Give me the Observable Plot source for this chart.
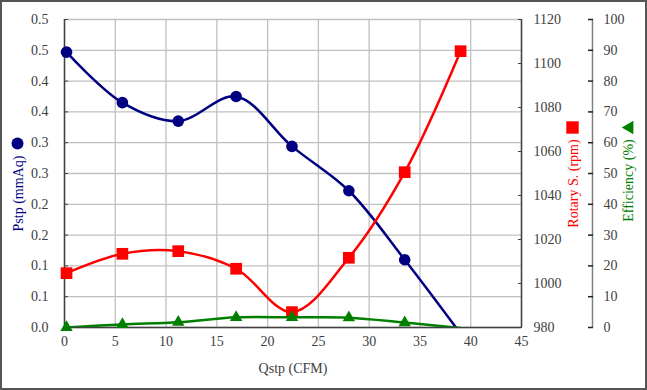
<!DOCTYPE html>
<html><head><meta charset="utf-8">
<script src="https://cdn.jsdelivr.net/npm/d3@7"></script>
<script src="https://cdn.jsdelivr.net/npm/@observablehq/plot@0.6"></script>
<style>
html,body{margin:0;padding:0;background:#fff}
#chart svg{display:block;outline:2px solid #555;outline-offset:-2px;font-family:"Liberation Serif","DejaVu Serif",serif}
#chart svg text{font-family:"Liberation Serif","DejaVu Serif",serif}
</style></head><body><div id="chart"></div>
<script>
const qstp = [0.2, 5.7, 11.2, 16.9, 22.4, 28.0, 33.5, 39.0];
const pstp = [0.447, 0.365, 0.335, 0.375, 0.294, 0.222, 0.110, -0.01];
const rotary = [1004.7, 1013.5, 1014.7, 1006.7, 987.0, 1011.7, 1050.6, 1105.6];
const efficiency = [0.0, 1.0, 1.7, 3.3, 3.3, 3.2, 1.6, -0.2];

const xTicks = [0, 5, 10, 15, 20, 25, 30, 35, 40, 45];
const pstpTicks = [0, 0.05, 0.1, 0.15, 0.2, 0.25, 0.3, 0.35, 0.4, 0.45, 0.5];
const pstpTickLabels = ["0.0", "0.1", "0.1", "0.2", "0.2", "0.3", "0.3", "0.4", "0.4", "0.5", "0.5"];
const rotaryTicks = [980, 1000, 1020, 1040, 1060, 1080, 1100, 1120];
const effTicks = [0, 10, 20, 30, 40, 50, 60, 70, 80, 90, 100];

const xTitle = "Qstp (CFM)";
const pTitle = "Pstp (mmAq)";
const rTitle = "Rotary S. (rpm)";
const eTitle = "Efficiency (%)";

const BLUE = "#000080", RED = "#ff0000", GREEN = "#008000";
const rToY = d3.scaleLinear().domain([980, 1120]).range([0, 0.5]);
const eToY = d3.scaleLinear().domain([0, 100]).range([0, 0.5]);

const rows = qstp.map((q, i) => ({q, p: pstp[i], r: rToY(rotary[i]), e: eToY(efficiency[i]), pv: pstp[i], ev: efficiency[i]}));

const FONT = "Liberation Serif";
const T = {fontFamily: FONT, fontSize: 14};
const chart = Plot.plot({
  width: 647, height: 390,
  marginLeft: 64, marginRight: 126, marginTop: 19, marginBottom: 63,
  style: {fontSize: "14px", color: "#404040", background: "#fff"},
  x: {domain: [0, 45]},
  y: {domain: [0, 0.5]},
  marks: [
    Plot.gridX(xTicks, {stroke: "#c0c0c0", strokeOpacity: 1, strokeWidth: 1.3}),
    Plot.gridY(pstpTicks, {stroke: "#c0c0c0", strokeOpacity: 1, strokeWidth: 1.3}),
    // left axis
    Plot.ruleX([0], {stroke: "#404040", strokeWidth: 1.5}),
    Plot.ruleY([0], {stroke: "#404040", strokeWidth: 1.5}),
    Plot.axisY(pstpTicks, {anchor: "left", label: null, tickSize: 4, dx: 4, text: null, stroke: "#404040"}),
    Plot.axisY(pstpTicks, {anchor: "left", label: null, tickSize: 0, tickPadding: 16, tickFormat: (d, i) => pstpTickLabels[i], fill: "#404040", ...T}),
    // x axis
    Plot.axisX(xTicks, {anchor: "bottom", label: null, tickSize: 0, tickPadding: 9, tickFormat: d => String(d), fill: "#404040", ...T}),
    // rotary axis
    Plot.ruleX([45], {stroke: "#404040", strokeWidth: 1.5}),
    Plot.axisY(rotaryTicks.map(rToY), {anchor: "right", label: null, tickSize: 4, dx: -4, text: null, stroke: "#404040"}),
    Plot.axisY(rotaryTicks.map(rToY), {anchor: "right", label: null, tickSize: 0, tickPadding: 12, tickFormat: (d, i) => String(rotaryTicks[i]), fill: "#404040", ...T}),
    // efficiency axis
    Plot.ruleX([45], {dx: 71, stroke: "#808080", strokeWidth: 1.5}),
    Plot.axisY(effTicks.map(eToY), {anchor: "right", label: null, tickSize: 5, dx: 66, text: null, stroke: "#202020", strokeWidth: 1.5}),
    Plot.axisY(effTicks.map(eToY), {anchor: "right", label: null, tickSize: 0, tickPadding: 11, dx: 71, tickFormat: (d, i) => String(effTicks[i]), fill: "#404040", ...T}),
    // series
    Plot.line(rows, {x: "q", y: "p", curve: "catmull-rom", stroke: BLUE, strokeWidth: 2.5, clip: true}),
    Plot.dot(rows, {x: "q", y: "p", filter: d => d.pv >= 0, symbol: "circle", r: 5.8, fill: BLUE, stroke: null}),
    Plot.line(rows, {x: "q", y: "r", curve: "catmull-rom", stroke: RED, strokeWidth: 2.5, clip: true}),
    Plot.dot(rows, {x: "q", y: "r", symbol: "square", r: 6.6, fill: RED, stroke: null}),
    Plot.line(rows, {x: "q", y: "e", curve: "catmull-rom", stroke: GREEN, strokeWidth: 2.5, clip: true}),
    Plot.dot(rows, {x: "q", y: "e", filter: d => d.ev >= 0, symbol: "triangle", r: 4.6, fill: GREEN, stroke: null}),
    // titles
    Plot.text([xTitle], {text: d => d, frameAnchor: "bottom", lineAnchor: "middle", dy: 41, fill: "#404040", ...T}),
    Plot.text([pTitle], {text: d => d, frameAnchor: "left", textAnchor: "middle", dx: -46, dy: 20, rotate: -90, fill: BLUE, ...T}),
    Plot.dot([0], {x: null, y: null, frameAnchor: "left", dx: -47, dy: -30, symbol: "circle", r: 6, fill: BLUE, stroke: null}),
    Plot.text([rTitle], {text: d => d, frameAnchor: "right", textAnchor: "middle", dx: 52, dy: 10, rotate: -90, fill: RED, ...T}),
    Plot.dot([0], {x: null, y: null, frameAnchor: "right", dx: 51, dy: -46, symbol: "square", r: 7, fill: RED, stroke: null}),
    Plot.text([eTitle], {text: d => d, frameAnchor: "right", textAnchor: "middle", dx: 107, dy: 7, rotate: -90, fill: GREEN, ...T}),
    Plot.dot([0], {x: null, y: null, frameAnchor: "right", dx: 108, dy: -46, symbol: "triangle", rotate: -90, r: 5, fill: GREEN, stroke: null})
  ]
});
document.getElementById("chart").appendChild(chart);
</script></body></html>
